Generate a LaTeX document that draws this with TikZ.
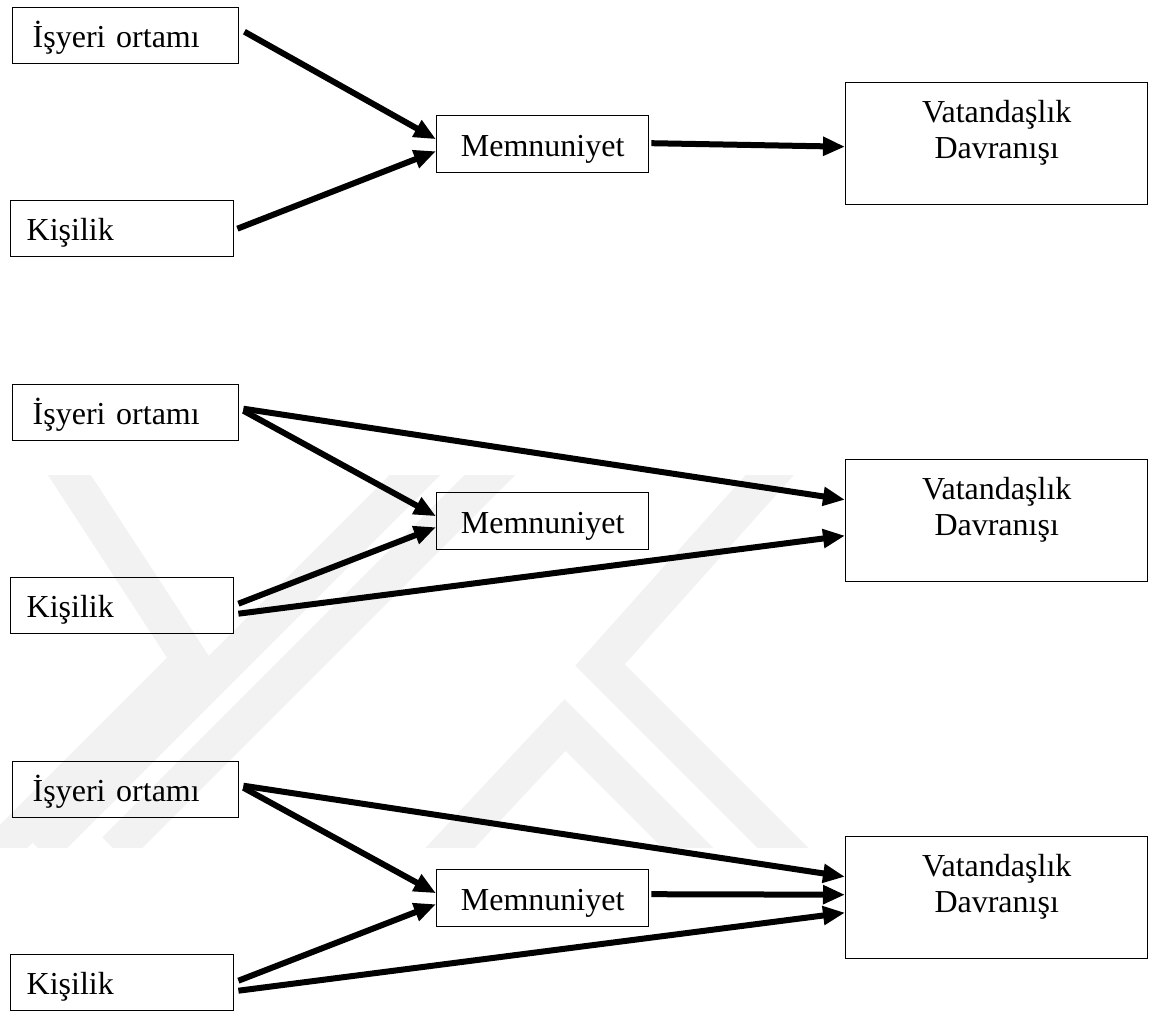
\documentclass[tikz,border=0pt]{standalone}
\usepackage{fontspec}
\setmainfont{Liberation Serif}
\usetikzlibrary{arrows.meta,calc}
\begin{document}
\begin{tikzpicture}[x=1pt,y=-1pt,
  box/.style={draw=black, line width=1.4pt, inner ysep=0pt, font=\fontsize{32}{36}\selectfont, text height=26pt, text depth=2pt},
  leftbox/.style={box, align=left, minimum height=56pt, anchor=north west},
  midbox/.style={box, inner xsep=0pt, text width=212pt, align=center, minimum height=57pt, anchor=north west},
  outbox/.style={box, inner xsep=0pt, text width=302pt, align=center, minimum height=122pt, text depth=68pt, anchor=north west},
  conn/.style={line width=6pt, -{Triangle[length=22pt,width=18pt]}},
  wm/.style={draw=black!5, line width=36pt, line join=miter, miter limit=10}
]
\useasboundingbox (0,0) rectangle (1160,1012);
% faint watermark
\begin{scope}
  \clip (0,475) rectangle (1160,847);
  \draw[wm] (40,430) -- (190,660) -- (-30,880);
  \draw[wm] (460,430) -- (40,850);
  \draw[wm] (535,430) -- (115,850);
  \draw[wm] (810,430) -- (600,665) -- (820,885);
  \draw[wm] (420,880) -- (565,725) -- (720,880);
\end{scope}
% boxes
\foreach \k/\dy in {1/0,2/377,3/754}{
  \node[leftbox, inner xsep=20pt, text width=186pt] (i\k) at (12,7+\dy) {İşyeri ortamı};
  \node[leftbox, inner xsep=16pt, text width=191pt] (k\k) at (10,200+\dy) {Kişilik};
  \node[midbox] (m\k) at (436,115+\dy) {Memnuniyet};
  \node[outbox] (v\k) at (845,82+\dy) {Vatandaşlık\\Davranışı};
}
% diagram 1
\draw[conn] ($(i1.east)+(5,-4)$) -- ($(m1.west)+(0,-5)$);
\draw[conn] ($(k1.east)+(3,0)$) -- ($(m1.west)+(0,7)$);
\draw[conn] ($(m1.east)+(2,-1)$) -- ($(v1.west)+(0,3)$);
% diagram 2
\draw[conn] ($(i2.east)+(4,-2)$) -- ($(m2.west)+(0,-5)$);
\draw[conn] ($(i2.east)+(4,-4)$) -- ($(v2.west)+(0,-21)$);
\draw[conn] ($(k2.east)+(4,-2)$) -- ($(m2.west)+(0,6)$);
\draw[conn] ($(k2.east)+(4,8)$) -- ($(v2.west)+(0,15)$);
% diagram 3
\draw[conn] ($(i3.east)+(4,-2)$) -- ($(m3.west)+(0,-5)$);
\draw[conn] ($(i3.east)+(4,-4)$) -- ($(v3.west)+(0,-21)$);
\draw[conn] ($(m3.east)+(2,-4)$) -- ($(v3.west)+(0,-3)$);
\draw[conn] ($(k3.east)+(4,-2)$) -- ($(m3.west)+(0,6)$);
\draw[conn] ($(k3.east)+(4,8)$) -- ($(v3.west)+(0,15)$);
\end{tikzpicture}
\end{document}
